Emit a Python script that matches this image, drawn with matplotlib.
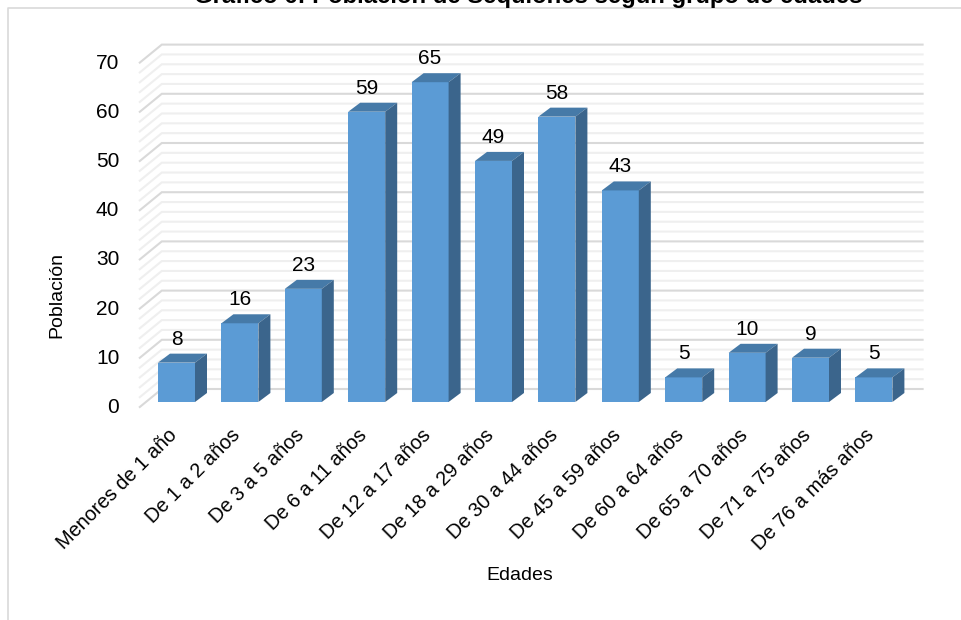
import matplotlib
matplotlib.use('Agg')
import matplotlib.pyplot as plt

plt.rcParams['font.family'] = ['Liberation Sans', 'DejaVu Sans']

# Datos
grupos = ['Menores de 1 año', 'De 1 a 2 años', 'De 3 a 5 años', 'De 6 a 11 años',
          'De 12 a 17 años', 'De 18 a 29 años', 'De 30 a 44 años', 'De 45 a 59 años',
          'De 60 a 64 años', 'De 65 a 70 años', 'De 71 a 75 años', 'De 76 a más años']
poblacion = [8, 16, 23, 59, 65, 49, 58, 43, 5, 10, 9, 5]
ticks_y = [0, 10, 20, 30, 40, 50, 60, 70]
ticks_menores = [2, 4, 6, 8, 12, 14, 16, 18, 22, 24, 26, 28, 32, 34, 36, 38,
                 42, 44, 46, 48, 52, 54, 56, 58, 62, 64, 66, 68]

W, H = 961, 620
fig = plt.figure(figsize=(W / 100, H / 100), dpi=100)

# eje frontal de las barras, en pixeles de la figura
izq, der, abajo, arriba = 144.8, 905.6, 402.0, 57.6
ax = fig.add_axes([izq / W, 1 - abajo / H, (der - izq) / W, (abajo - arriba) / H])
ax.set_xlim(-0.5, 11.5)
ax.set_ylim(0, 70)
for s in ax.spines.values():
    s.set_visible(False)
ax.set_xticks(range(len(grupos)))
ax.set_xticklabels([])
ax.set_yticks([])
ax.tick_params(length=0)

# conversion de pixeles a unidades de datos
ux = 12 / (der - izq)
uy = 70 / (abajo - arriba)

# pared del fondo y pared lateral
def linea_pared(v, color, lw):
    x0 = -0.5 - 5 * ux
    y0 = v - 5 * uy
    x1 = -0.5 + 17 * ux
    y1 = v + 13 * uy
    x2 = 11.5 + 17 * ux
    ax.plot([x0, x1, x2], [y0, y1, y1], color=color, lw=lw, clip_on=False,
            zorder=1, solid_joinstyle='miter')

for v in ticks_menores:
    linea_pared(v, '#EFEFEF', 1.5)
for v in ticks_y:
    linea_pared(v, '#D9D9D9', 1.5)

# barras con efecto 3D
ancho = 37 * ux
dx = 12 * ux
dy = 9 * uy
ax.bar(range(len(grupos)), poblacion, width=ancho, color='#5B9BD5', zorder=3)
for i, v in enumerate(poblacion):
    x0 = i - ancho / 2
    x1 = i + ancho / 2
    ax.fill([x0, x1, x1 + dx, x0 + dx], [v, v, v + dy, v + dy], color='#467AA8',
            lw=0, zorder=3, clip_on=False)
    ax.fill([x1, x1 + dx, x1 + dx, x1], [0, dy, v + dy, v], color='#3B658C',
            lw=0, zorder=3, clip_on=False)
    ax.text(i, v + dy + 5 * uy, str(v), ha='center', va='bottom',
            fontsize=15, color='black', zorder=4)

# etiquetas de los ejes
for v in ticks_y:
    ax.text(-0.5 - 25.5 * ux, v - 5.5 * uy, str(v), ha='right', va='center', fontsize=15)
for i, g in enumerate(grupos):
    ax.annotate(g, (i, 0), xytext=(-6.5, -17), textcoords='offset points', rotation=45,
                rotation_mode='anchor', ha='right', va='top', fontsize=14.4)

fig.text(57 / W, 1 - 295 / H, 'Población', rotation=90, ha='center', va='center', fontsize=14)
fig.text(520 / W, 1 - 576 / H, 'Edades', ha='center', va='center', fontsize=14)
fig.text(528 / W, 1 - 3 / H, 'Gráfico 6: Población de Sequiones según grupo de edades',
         ha='center', va='baseline', fontsize=17.2, fontweight='bold')

# borde del recuadro
fig.add_artist(plt.Line2D([8 / W, 8 / W, 1], [0, 1 - 8 / H, 1 - 8 / H], color='#D9D9D9', lw=1.2))

fig.savefig('out.png', dpi=100)
